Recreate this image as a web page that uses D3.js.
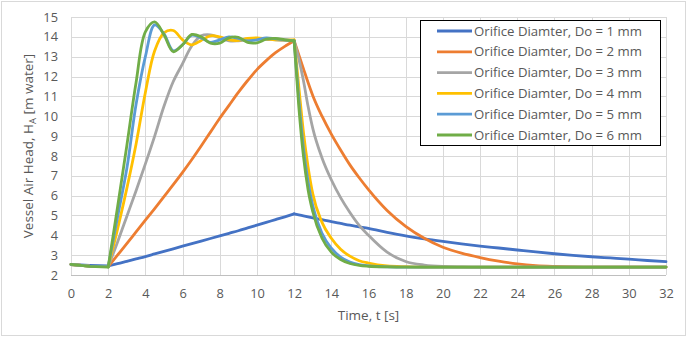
<!DOCTYPE html>
<html>
<head>
<meta charset="utf-8">
<script src="https://cdn.jsdelivr.net/npm/d3@7"></script>
<style>
  body { margin: 0; background: #fff; }
  text { font-family: "Open Sans", sans-serif; fill: #595959; }
</style>
</head>
<body>
<div id="chart"></div>
<script>
// time axis [s]
var timeS = [0, 1, 2, 2.5, 3, 3.5, 4, 4.5, 5, 5.5, 6, 6.5, 7, 7.5, 8, 8.5, 9, 9.5, 10, 10.5, 11, 11.5, 12,
    12.25, 12.5, 12.75, 13, 13.5, 14, 14.5, 15, 15.5, 16,
    17, 18, 19, 20, 21, 22, 23, 24, 25, 26, 27, 28, 29, 30, 31, 32];

// vessel air head [m water] for each orifice diameter
var headDo1 = [2.53, 2.49, 2.46, 2.57, 2.69, 2.81, 2.93, 3.06, 3.19, 3.32, 3.45, 3.58, 3.71, 3.84, 3.97, 4.10, 4.23, 4.37, 4.51, 4.65, 4.79, 4.93, 5.08,
    5.03, 4.98, 4.93, 4.88, 4.79, 4.69, 4.60, 4.51, 4.43, 4.35,
    4.15, 3.97, 3.82, 3.69, 3.57, 3.46, 3.36, 3.26, 3.16, 3.07, 2.99, 2.92, 2.86, 2.80, 2.73, 2.67];
var headDo2 = [2.53, 2.45, 2.42, 3.0, 3.58, 4.17, 4.76, 5.35, 5.95, 6.55, 7.17, 7.82, 8.5, 9.2, 9.9, 10.55, 11.2, 11.8, 12.35, 12.8, 13.2, 13.52, 13.8,
    13.1, 12.4, 11.7, 11.05, 10.0, 9.1, 8.3, 7.55, 6.9, 6.3,
    5.25, 4.45, 3.85, 3.4, 3.1, 2.88, 2.7, 2.56, 2.47, 2.43, 2.41, 2.4, 2.4, 2.4, 2.4, 2.4];
var headDo3 = [2.53, 2.45, 2.42, 3.65, 4.95, 6.25, 7.6, 9.0, 10.5, 11.75, 12.65, 13.55, 14.05, 14.1, 13.95, 13.8, 13.8, 13.85, 13.9, 13.88, 13.85, 13.82, 13.8,
    12.9, 11.8, 10.5, 9.4, 7.9, 6.8, 5.9, 5.15, 4.5, 4.0,
    3.15, 2.68, 2.5, 2.43, 2.41, 2.4, 2.4, 2.4, 2.4, 2.4, 2.4, 2.4, 2.4, 2.4, 2.4, 2.4];
var headDo4 = [2.53, 2.45, 2.42, 4.3, 6.35, 8.6, 11.2, 13.3, 14.2, 14.32, 13.85, 13.6, 13.82, 14.05, 14.0, 13.85, 13.82, 13.92, 13.95, 13.9, 13.85, 13.85, 13.85,
    11.5, 9.2, 7.45, 6.1, 4.65, 3.85, 3.3, 2.95, 2.72, 2.6,
    2.46, 2.42, 2.4, 2.4, 2.4, 2.4, 2.4, 2.4, 2.4, 2.4, 2.4, 2.4, 2.4, 2.4, 2.4, 2.4];
var headDo5 = [2.53, 2.45, 2.42, 4.9, 7.35, 10.6, 13.0, 14.6, 14.15, 13.3, 13.6, 14.08, 13.95, 13.72, 13.85, 14.0, 13.92, 13.8, 13.85, 13.95, 13.9, 13.85, 13.8,
    10.9, 8.4, 6.7, 5.5, 4.1, 3.35, 2.9, 2.65, 2.52, 2.46,
    2.41, 2.4, 2.4, 2.4, 2.4, 2.4, 2.4, 2.4, 2.4, 2.4, 2.4, 2.4, 2.4, 2.4, 2.4, 2.4];
var headDo6 = [2.53, 2.43, 2.4, 5.4, 8.5, 11.7, 14.25, 14.75, 14.1, 13.25, 13.6, 14.12, 14.0, 13.68, 13.68, 13.95, 13.98, 13.72, 13.7, 13.88, 13.92, 13.85, 13.8,
    10.5, 8.0, 6.3, 5.2, 3.85, 3.15, 2.78, 2.58, 2.48, 2.44,
    2.41, 2.4, 2.4, 2.4, 2.4, 2.4, 2.4, 2.4, 2.4, 2.4, 2.4, 2.4, 2.4, 2.4, 2.4, 2.4];

var seriesNames = ["Orifice Diamter, Do = 1 mm", "Orifice Diamter, Do = 2 mm", "Orifice Diamter, Do = 3 mm",
    "Orifice Diamter, Do = 4 mm", "Orifice Diamter, Do = 5 mm", "Orifice Diamter, Do = 6 mm"];
var xTickValues = [0, 2, 4, 6, 8, 10, 12, 14, 16, 18, 20, 22, 24, 26, 28, 30, 32];
var yTickValues = [2, 3, 4, 5, 6, 7, 8, 9, 10, 11, 12, 13, 14, 15];

var colors = ["#4472C4", "#ED7D31", "#A5A5A5", "#FFC000", "#5B9BD5", "#70AD47"];
var allHeads = [headDo1, headDo2, headDo3, headDo4, headDo5, headDo6];

var W = 688, H = 338;
var margin = {top: 17, right: 22, bottom: 63, left: 71},
    width = W - margin.left - margin.right,
    height = H - margin.top - margin.bottom;

var svg = d3.select("#chart").append("svg")
    .attr("width", W)
    .attr("height", H);

// chart area border
svg.append("rect")
    .attr("x", 1.5).attr("y", 1.5)
    .attr("width", W - 4).attr("height", H - 4)
    .attr("fill", "#fff")
    .attr("stroke", "#d9d9d9");

var g = svg.append("g")
    .attr("transform", `translate(${margin.left},${margin.top})`);

var x = d3.scaleLinear().domain([0, 32]).range([0, width]);
var y = d3.scaleLinear().domain([2, 15]).range([height, 0]);

// gridlines
g.append("g")
    .selectAll("line")
    .data(yTickValues)
    .join("line")
    .attr("x1", 0).attr("x2", width)
    .attr("y1", d => Math.round(y(d)) + 0.5).attr("y2", d => Math.round(y(d)) + 0.5)
    .attr("stroke", d => d === 2 ? "#bfbfbf" : "#d9d9d9");

g.append("g")
    .selectAll("line")
    .data(xTickValues)
    .join("line")
    .attr("x1", d => Math.round(x(d)) + 0.5).attr("x2", d => Math.round(x(d)) + 0.5)
    .attr("y1", 0).attr("y2", height)
    .attr("stroke", "#d9d9d9");

// axes (labels only)
var xAxis = g.append("g")
    .attr("transform", `translate(0,${height})`)
    .call(d3.axisBottom(x).tickValues(xTickValues).tickSize(0).tickPadding(14));
var yAxis = g.append("g")
    .call(d3.axisLeft(y).tickValues(yTickValues).tickSize(0).tickPadding(13));
[xAxis, yAxis].forEach(function (a) {
    a.select(".domain").remove();
    a.selectAll("text")
        .attr("font-family", "Open Sans, sans-serif")
        .attr("font-size", 12.8)
        .style("fill", "#595959");
});

// series lines, split at the valve events (t = 2 s and t = 12 s)
var segments = [[0, 2], [2, 22], [22, timeS.length - 1]];
var curves = [d3.curveLinear, d3.curveCatmullRom.alpha(0.5), d3.curveMonotoneX];

allHeads.forEach(function (head, k) {
    var pts = timeS.map((t, i) => [t, head[i]]);
    segments.forEach(function (s, j) {
        var line = d3.line()
            .x(d => x(d[0]))
            .y(d => y(d[1]))
            .curve(curves[j]);
        g.append("path")
            .datum(pts.slice(s[0], s[1] + 1))
            .attr("fill", "none")
            .attr("stroke", colors[k])
            .attr("stroke-width", 2.8)
            .attr("stroke-linecap", "round")
            .attr("stroke-linejoin", "round")
            .attr("d", line);
    });
});

// axis titles
svg.append("text")
    .attr("x", margin.left + width / 2)
    .attr("y", 320)
    .attr("text-anchor", "middle")
    .attr("font-size", 13.5)
    .text("Time, t [s]");

var yTitle = svg.append("text")
    .attr("transform", `translate(33,${margin.top + height / 2}) rotate(-90)`)
    .attr("text-anchor", "middle")
    .attr("font-size", 13.5);
yTitle.append("tspan").text("Vessel Air Head, H");
yTitle.append("tspan").attr("font-size", 9.5).attr("dy", 3).text("A");
yTitle.append("tspan").attr("dy", -3).text(" [m water]");

// legend
var legend = svg.append("g").attr("transform", "translate(420,20)");
legend.append("rect")
    .attr("x", 0.5).attr("y", 0.5)
    .attr("width", 240).attr("height", 125)
    .attr("fill", "#fff")
    .attr("stroke", "#000");

var items = legend.selectAll(".item")
    .data(seriesNames)
    .join("g")
    .attr("class", "item")
    .attr("transform", (d, i) => `translate(0,${11 + i * 20.8})`);
items.append("line")
    .attr("x1", 17).attr("x2", 52)
    .attr("stroke", (d, i) => colors[i])
    .attr("stroke-width", 2.8);
items.append("text")
    .attr("x", 54)
    .attr("dy", "0.35em")
    .attr("font-size", 13.2)
    .text(d => d);
</script>
</body>
</html>
